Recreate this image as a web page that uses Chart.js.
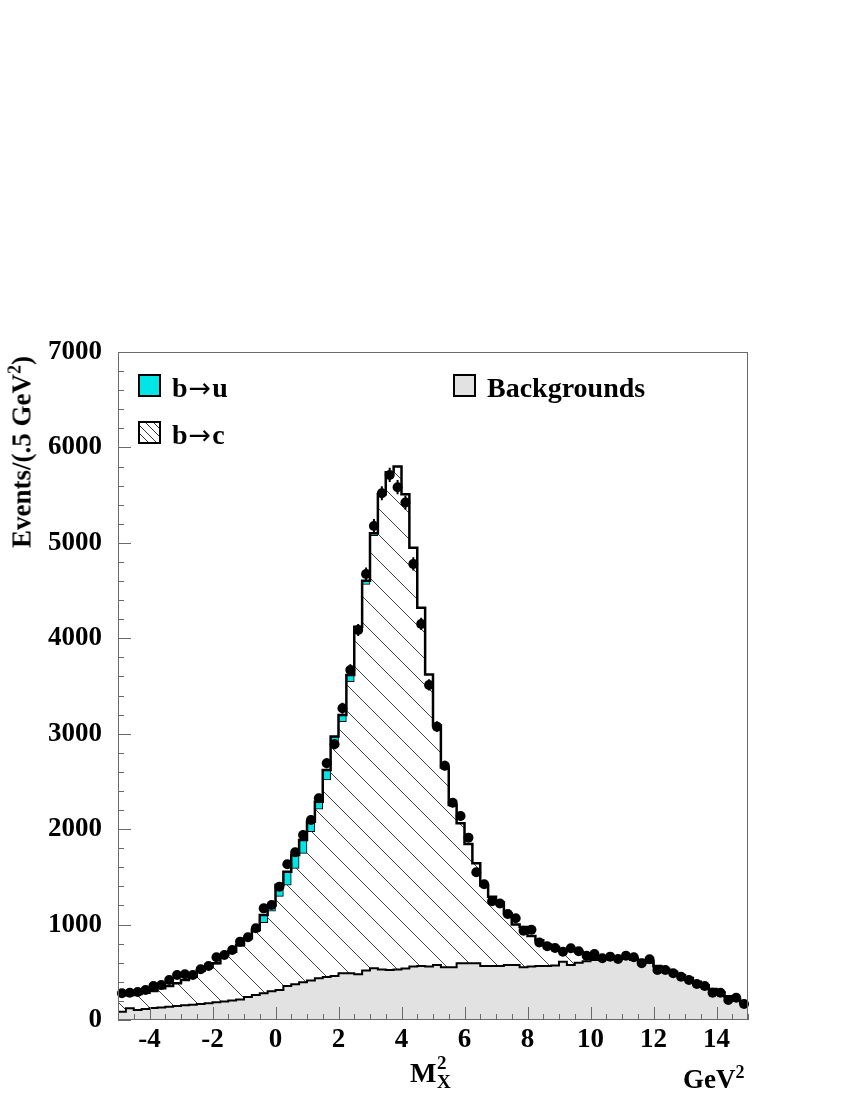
<!DOCTYPE html>
<html>
<head>
<meta charset="utf-8">
<title>M_X^2 distribution</title>
<script src="https://cdn.jsdelivr.net/npm/chart.js@4.4.0/dist/chart.umd.min.js"></script>
<style>
  html, body { margin: 0; padding: 0; background: #fff; }
  #wrap { position: relative; width: 850px; height: 1100px; overflow: hidden; }
  #chart { position: absolute; left: 0; top: 0; }
  .txt {
    position: absolute;
    font-family: "Liberation Serif", "Times New Roman", serif;
    font-weight: bold;
    color: #000;
    white-space: nowrap;
    line-height: 1;
  }
  .arr { font-family: "DejaVu Sans", sans-serif; font-weight: normal; font-size: 27px; margin: 0 1px; }
  .box { position: absolute; width: 19px; height: 19px; border: 2px solid #000; }
</style>
</head>
<body>
<div id="wrap">
  <canvas id="chart" width="850" height="1100"></canvas>

  <div class="txt" id="ytitle" style="font-size:27px;left:22px;top:452px;transform:translate(-50%,-50%) rotate(-90deg);">Events/(.5 GeV<sup style="font-size:18px;line-height:0;">2</sup>)</div>

  <div class="txt" style="font-size:28px;left:410px;top:1059px;">M</div>
  <div class="txt" style="font-size:19px;left:437px;top:1053px;">2</div>
  <div class="txt" style="font-size:19px;left:437px;top:1072px;">X</div>
  <div class="txt" style="font-size:27px;left:683px;top:1066px;">GeV<sup style="font-size:18px;line-height:0;">2</sup></div>

  <div class="box" style="left:138px;top:374px;background:#00e5e5;"></div>
  <div class="txt" style="font-size:28px;left:172px;top:374px;">b<span class="arr">→</span>u</div>
  <div class="box" style="left:138px;top:421px;background:repeating-linear-gradient(45deg,#fff 0 5px,#333 5px 6px);"></div>
  <div class="txt" style="font-size:28px;left:172px;top:421px;">b<span class="arr">→</span>c</div>
  <div class="box" style="left:453px;top:374px;background:#e2e2e2;"></div>
  <div class="txt" style="font-size:28px;left:487px;top:374px;">Backgrounds</div>
</div>

<script>
/* Binning: 80 bins of 0.25 GeV^2 from -5 to 15 */
const xMin = -5;
const binWidth = 0.25;
const nBins = 80;
const binCenters = Array.from({ length: nBins }, (_, i) => xMin + binWidth * (i + 0.5));
const binEdges = Array.from({ length: nBins + 1 }, (_, i) => xMin + binWidth * i);

/* Data points (events per bin) */
const dataCounts = [
  280, 286, 293, 314, 356, 367, 419, 472, 479, 472,
  531, 566, 657, 681, 734, 821, 867, 961, 1170, 1205,
  1397, 1632, 1757, 1939, 2096, 2323, 2690, 2890, 3267, 3668,
  4087, 4674, 5177, 5520, 5712, 5583, 5422, 4779, 4150, 3511,
  3074, 2665, 2277, 2138, 1911, 1548, 1422, 1244, 1220, 1110,
  1066, 936, 946, 812, 772, 755, 716, 751, 721, 674,
  692, 647, 664, 639, 674, 657, 594, 636, 524, 524,
  489, 454, 419, 377, 356, 286, 286, 210, 234, 168
];

/* Monte Carlo total (outer black histogram) */
const mcTotal = [
  262, 262, 272, 286, 304, 332, 356, 384, 419, 454,
  517, 552, 594, 681, 716, 786, 856, 943, 1100, 1200,
  1415, 1554, 1729, 1886, 2078, 2288, 2620, 2970, 3196, 3616,
  4122, 4604, 5100, 5510, 5740, 5799, 5510, 4950, 4321, 3620,
  3085, 2645, 2253, 2061, 1844, 1642, 1410, 1292, 1230, 1115,
  1000, 975, 880, 835, 790, 765, 745, 730, 715, 700,
  645, 655, 660, 660, 655, 645, 630, 615, 565, 535,
  505, 470, 440, 400, 365, 325, 290, 250, 215, 185
];

/* b -> u component (cyan, on top) */
const bToU = [
  0, 0, 0, 0, 0, 0, 0, 0, 0, 0,
  0, 10, 10, 10, 10, 15, 15, 20, 80, 60,
  120, 140, 140, 140, 105, 80, 105, 70, 70, 70,
  25, 40, 25, 10, 0, 0, 0, 0, 0, 0,
  0, 0, 0, 0, 0, 0, 0, 0, 0, 0,
  0, 0, 0, 0, 0, 0, 0, 0, 0, 0,
  0, 0, 0, 0, 0, 0, 0, 0, 0, 0,
  0, 0, 0, 0, 0, 0, 0, 0, 0, 0
];

/* Backgrounds (grey, bottom) */
const backgrounds = [
  87, 122, 105, 115, 125, 132, 140, 148, 155, 160,
  168, 175, 185, 195, 205, 215, 240, 262, 280, 300,
  314, 356, 375, 395, 415, 437, 450, 461, 489, 489,
  480, 520, 542, 530, 524, 530, 540, 560, 566, 560,
  576, 552, 552, 594, 594, 594, 566, 566, 566, 576,
  576, 552, 560, 566, 566, 570, 611, 576, 600, 615,
  630, 640, 645, 645, 640, 630, 615, 600, 557, 527,
  497, 462, 432, 392, 357, 317, 282, 242, 207, 177
];

/* b -> c is what remains of the MC total */
const bToC = mcTotal.map((t, i) => t - bToU[i] - backgrounds[i]);

/* Axis ticks */
const xTickValues = [-4, -2, 0, 2, 4, 6, 8, 10, 12, 14];
const yTickValues = [0, 1000, 2000, 3000, 4000, 5000, 6000, 7000];
const xMinorStep = 0.5;
const yMinorStep = 200;

const asPoints = vals => binCenters.map((x, i) => ({ x, y: vals[i] }));
const asSteps = vals => binEdges.map((x, i) => ({ x, y: vals[Math.min(i, nBins - 1)] }));

/* Diagonal hatching for the b -> c area */
function makeHatch(ctx) {
  const s = 26;
  const tile = document.createElement('canvas');
  tile.width = s;
  tile.height = s;
  const g = tile.getContext('2d');
  g.strokeStyle = '#444';
  g.lineWidth = 1;
  g.beginPath();
  g.moveTo(-2, -2);
  g.lineTo(s + 2, s + 2);
  g.stroke();
  return ctx.createPattern(tile, 'repeat');
}

/* Error bars on the data points */
const errorBars = {
  id: 'errorBars',
  afterDatasetsDraw(chart) {
    const { ctx, scales: { x, y } } = chart;
    ctx.save();
    ctx.strokeStyle = '#000';
    ctx.lineWidth = 2;
    ctx.beginPath();
    dataCounts.forEach((n, i) => {
      const px = x.getPixelForValue(binCenters[i]);
      const e = Math.sqrt(n);
      ctx.moveTo(px, y.getPixelForValue(n + e));
      ctx.lineTo(px, y.getPixelForValue(n - e));
    });
    ctx.stroke();
    ctx.restore();
  }
};

/* Frame and inside tick marks */
const frameTicks = {
  id: 'frameTicks',
  afterDraw(chart) {
    const { ctx, chartArea: a, scales: { x, y } } = chart;
    ctx.save();
    ctx.strokeStyle = '#6a6a6a';
    ctx.lineWidth = 1;
    ctx.strokeRect(a.left + 0.5, a.top + 0.5, a.right - a.left - 1, a.bottom - a.top - 1);
    ctx.beginPath();
    for (let v = y.min; v <= y.max; v += yMinorStep) {
      const py = Math.round(y.getPixelForValue(v)) + 0.5;
      const len = yTickValues.includes(v) ? 13 : 6;
      ctx.moveTo(a.left, py);
      ctx.lineTo(a.left + len, py);
    }
    for (let v = x.min; v <= x.max + 1e-9; v += xMinorStep) {
      const px = Math.round(x.getPixelForValue(v)) + 0.5;
      const len = xTickValues.includes(v) ? 13 : 6;
      ctx.moveTo(px, a.bottom);
      ctx.lineTo(px, a.bottom - len);
    }
    ctx.stroke();
    ctx.restore();
  }
};

function init() {
  const canvas = document.getElementById('chart');
  const ctx = canvas.getContext('2d');
  const tickFont = { family: '"Liberation Serif", "Times New Roman", serif', size: 27, weight: 'bold' };

  new Chart(ctx, {
    type: 'bar',
    data: {
      datasets: [
        { label: 'Backgrounds', data: asPoints(backgrounds), backgroundColor: '#e2e2e2',
          borderWidth: 0, stack: 'mc', order: 3 },
        { label: 'b→c', data: asPoints(bToC), backgroundColor: makeHatch(ctx),
          borderWidth: 0, stack: 'mc', order: 3 },
        { label: 'b→u', data: asPoints(bToU), backgroundColor: '#00e5e5',
          borderColor: '#000', borderWidth: 1, borderSkipped: false, stack: 'mc', order: 3 },
        { type: 'line', label: 'bg outline', data: asSteps(backgrounds), stepped: 'before',
          borderColor: '#000', borderWidth: 2, pointRadius: 0, fill: false, stack: 'bgline', order: 2 },
        { type: 'line', label: 'total outline', data: asSteps(mcTotal), stepped: 'before',
          borderColor: '#000', borderWidth: 2.5, pointRadius: 0, fill: false, stack: 'totline', order: 1 },
        { type: 'line', label: 'Data', data: asPoints(dataCounts), showLine: false,
          pointRadius: 5, pointBackgroundColor: '#000', pointBorderWidth: 0,
          stack: 'pts', order: 0, clip: false }
      ]
    },
    options: {
      responsive: false,
      animation: false,
      events: [],
      layout: { padding: { left: 0, right: 102, top: 352, bottom: 30 } },
      datasets: { bar: { barPercentage: 1, categoryPercentage: 1, grouped: false } },
      plugins: { legend: { display: false }, tooltip: { enabled: false }, title: { display: false } },
      scales: {
        x: {
          type: 'linear', min: -5, max: 15, offset: false, stacked: true,
          grid: { display: false, drawTicks: false }, border: { display: false },
          afterBuildTicks: s => { s.ticks = xTickValues.map(v => ({ value: v })); },
          afterFit: s => { s.height = 50; },
          ticks: { font: tickFont, color: '#000', padding: 4, maxRotation: 0, autoSkip: false,
                   callback: v => String(v) }
        },
        y: {
          type: 'linear', min: 0, max: 7000, stacked: true,
          grid: { display: false, drawTicks: false }, border: { display: false },
          afterBuildTicks: s => { s.ticks = yTickValues.map(v => ({ value: v })); },
          afterFit: s => { s.width = 118; },
          ticks: { font: tickFont, color: '#000', padding: 16, autoSkip: false,
                   callback: v => String(v) }
        }
      }
    },
    plugins: [errorBars, frameTicks]
  });
}

window.addEventListener('load', init);
</script>
</body>
</html>
